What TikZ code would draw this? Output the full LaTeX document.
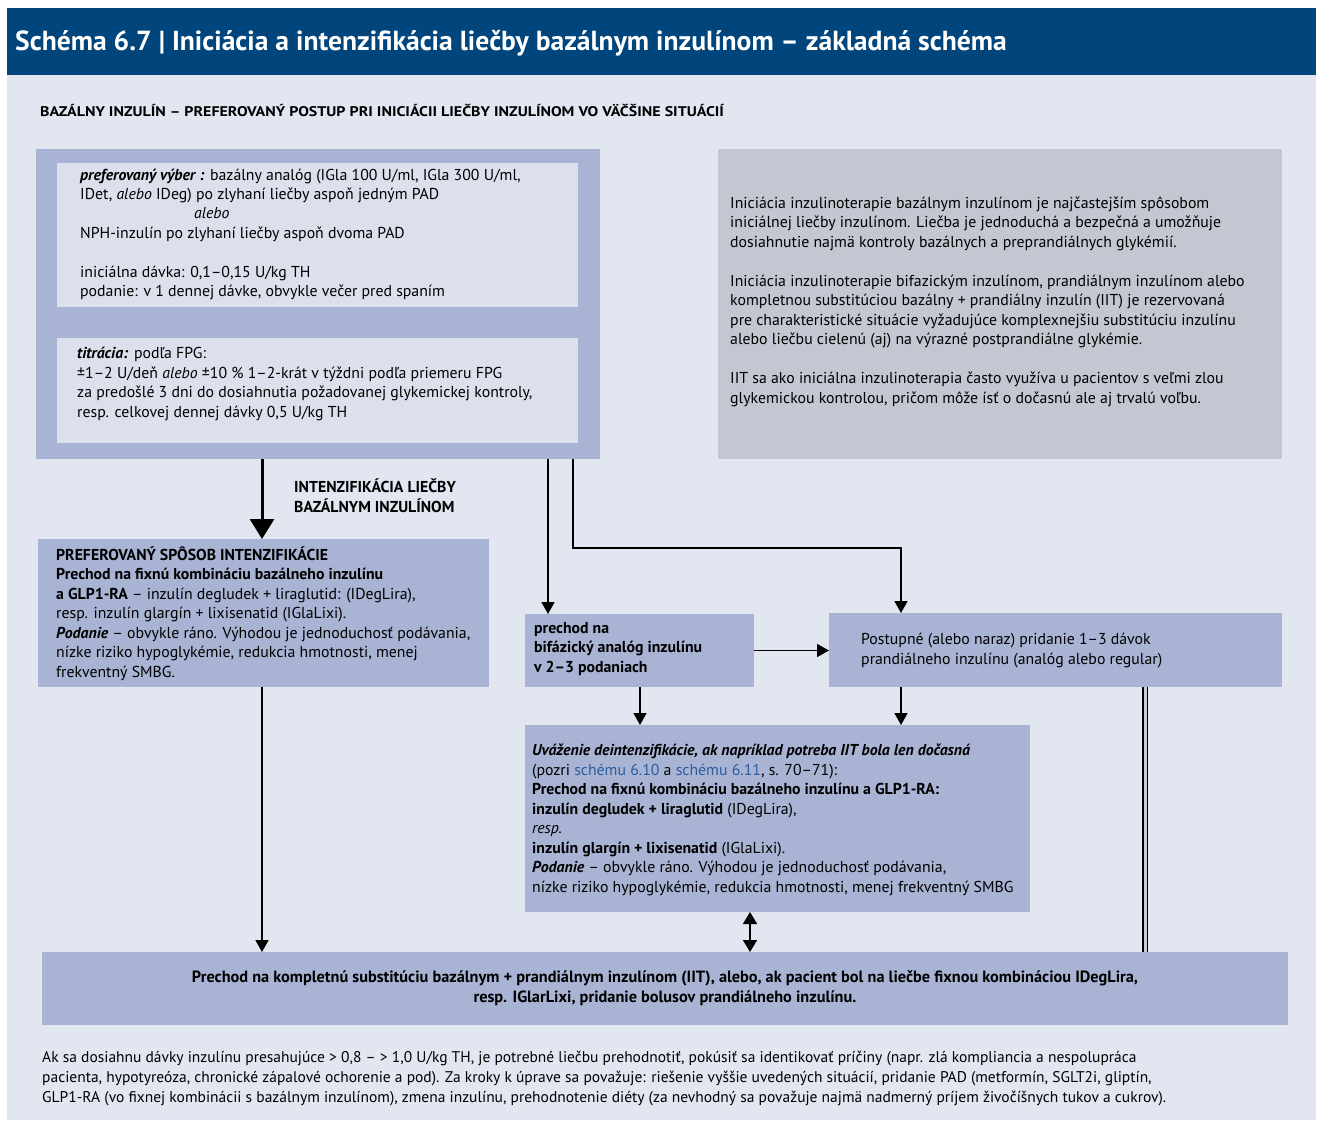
\documentclass[tikz,border=0pt]{standalone}
\usepackage{fontspec}
\setmainfont{PT Sans}
\usetikzlibrary{arrows.meta}
\definecolor{titleblue}{HTML}{00457C}
\definecolor{panel}{HTML}{E1E6F1}
\definecolor{medbox}{HTML}{A9B4D4}
\definecolor{lightbox}{HTML}{DCE0EC}
\definecolor{graybox}{HTML}{C3C7D1}
\definecolor{linkblue}{HTML}{2B5C9E}
\definecolor{gapgray}{HTML}{C8CCD6}
\newcommand\fs{\fontsize{15.8}{19.5}\selectfont}
\newcommand\fsfoot{\fontsize{15.5}{20}\selectfont}
\begin{document}
\begin{tikzpicture}[x=1pt,y=-1pt,
  box/.style={anchor=north west, inner sep=0pt, outer sep=0pt, draw=none},
  txt/.style={anchor=base west, inner sep=0pt, align=left, font=\fs},
  arr/.style={-{Triangle[length=12pt,width=13pt]}, line width=1.6pt},
  bigarr/.style={-{Triangle[length=20pt,width=24pt]}, line width=3pt},
  dblarr/.style={{Triangle[length=12pt,width=14pt]}-{Triangle[length=12pt,width=14pt]}, line width=1.6pt},
  dblline/.style={line width=1.8pt, double=gapgray, double distance=3pt}]
\useasboundingbox (0,0) rectangle (1323,1126);
\fill[white] (0,0) rectangle (1323,1126);
% title bar and panel
\node[box, fill=panel, minimum width=1309pt, minimum height=1045pt] (P) at (7,75) {};
\node[box, fill=titleblue, minimum width=1309pt, minimum height=67pt] (T) at (7,8) {};
\node[anchor=west, inner sep=0pt, text=white, font=\fontsize{27.6}{30}\selectfont\bfseries] (title) at (15,43)
  {Schéma 6.7 | Iniciácia a intenzifikácia liečby bazálnym inzulínom – základná schéma};
\node[anchor=base west, inner sep=0pt, font=\fontsize{14}{16}\selectfont\bfseries] (sub) at (40,117)
  {\scalebox{1.14}[1]{BAZÁLNY INZULÍN – PREFEROVANÝ POSTUP PRI INICIÁCII LIEČBY INZULÍNOM VO VÄČŠINE SITUÁCIÍ}};
% boxes
\node[box, fill=medbox, minimum width=564pt, minimum height=310pt] (A) at (36,149) {};
\node[box, fill=lightbox, minimum width=521pt, minimum height=144pt] (A1) at (57,163) {};
\node[box, fill=lightbox, minimum width=521pt, minimum height=105pt] (A2) at (57,338) {};
\node[box, fill=graybox, minimum width=564pt, minimum height=310pt] (G) at (718,149) {};
\node[box, fill=medbox, minimum width=451pt, minimum height=148pt] (B) at (38,539) {};
\node[box, fill=medbox, minimum width=229pt, minimum height=73pt] (C) at (525,614) {};
\node[box, fill=medbox, minimum width=453pt, minimum height=74pt] (D) at (829,613) {};
\node[box, fill=medbox, minimum width=505pt, minimum height=187pt] (E) at (525,725) {};
\node[box, fill=medbox, minimum width=1246pt, minimum height=73pt] (F) at (42,952) {};
% texts (anchor = baseline of the last line)
\node[txt] (tA1) at (80,297) {\textbf{\textit{preferovaný výber :}} bazálny analóg (IGla 100 U/ml, IGla 300 U/ml,\\
IDet, \textit{alebo} IDeg) po zlyhaní liečby aspoň jedným PAD\\
\hspace*{114pt}\textit{alebo}\\
NPH-inzulín po zlyhaní liečby aspoň dvoma PAD\\[19.5pt]
iniciálna dávka: 0,1–0,15 U/kg TH\\
podanie: v 1 dennej dávke, obvykle večer pred spaním};
\node[txt] (tA2) at (77,417) {\textbf{\textit{titrácia:}} podľa FPG:\\
±1–2 U/deň \textit{alebo} ±10 \% 1–2-krát v týždni podľa priemeru FPG\\
za predošlé 3 dni do dosiahnutia požadovanej glykemickej kontroly,\\
resp. celkovej dennej dávky 0,5 U/kg TH};
\node[txt] (tG) at (730,403) {Iniciácia inzulinoterapie bazálnym inzulínom je najčastejším spôsobom\\
iniciálnej liečby inzulínom. Liečba je jednoduchá a bezpečná a umožňuje\\
dosiahnutie najmä kontroly bazálnych a preprandiálnych glykémií.\\[19.5pt]
Iniciácia inzulinoterapie bifazickým inzulínom, prandiálnym inzulínom alebo\\
kompletnou substitúciou bazálny + prandiálny inzulín (IIT) je rezervovaná\\
pre charakteristické situácie vyžadujúce komplexnejšiu substitúciu inzulínu\\
alebo liečbu cielenú (aj) na výrazné postprandiálne glykémie.\\[19.5pt]
IIT sa ako iniciálna inzulinoterapia často využíva u pacientov s veľmi zlou\\
glykemickou kontrolou, pričom môže ísť o dočasnú ale aj trvalú voľbu.};
\node[txt, font=\fs\bfseries] (lab) at (294,512) {INTENZIFIKÁCIA LIEČBY\\BAZÁLNYM INZULÍNOM};
\node[txt] (tB) at (56,677) {\textbf{PREFEROVANÝ SPÔSOB INTENZIFIKÁCIE}\\
\textbf{Prechod na fixnú kombináciu bazálneho inzulínu}\\
\textbf{a GLP1-RA} – inzulín degludek + liraglutid: (IDegLira),\\
resp. inzulín glargín + lixisenatid (IGlaLixi).\\
\textbf{\textit{Podanie}} – obvykle ráno. Výhodou je jednoduchosť podávania,\\
nízke riziko hypoglykémie, redukcia hmotnosti, menej\\
frekventný SMBG.};
\node[txt, font=\fs\bfseries] (tC) at (534,672) {prechod na\\bifázický analóg inzulínu\\v 2–3 podaniach};
\node[txt] (tD) at (861,664) {Postupné (alebo naraz) pridanie 1–3 dávok\\prandiálneho inzulínu (analóg alebo regular)};
\node[txt] (tE) at (532,892) {\textbf{\textit{Uváženie deintenzifikácie, ak napríklad potreba IIT bola len dočasná}}\\
(pozri \textcolor{linkblue}{schému 6.10} a \textcolor{linkblue}{schému 6.11}, s. 70–71):\\
\textbf{Prechod na fixnú kombináciu bazálneho inzulínu a GLP1-RA:}\\
\textbf{inzulín degludek + liraglutid} (IDegLira),\\
\textit{resp.}\\
\textbf{inzulín glargín + lixisenatid} (IGlaLixi).\\
\textbf{\textit{Podanie}} – obvykle ráno. Výhodou je jednoduchosť podávania,\\
nízke riziko hypoglykémie, redukcia hmotnosti, menej frekventný SMBG};
\node[inner sep=0pt, align=center, font=\fontsize{16.3}{19.5}\selectfont\bfseries] (tF) at (665,988) {Prechod na kompletnú substitúciu bazálnym + prandiálnym inzulínom (IIT), alebo, ak pacient bol na liečbe fixnou kombináciou IDegLira,\\
resp. IGlarLixi, pridanie bolusov prandiálneho inzulínu.};
\node[anchor=base west, inner sep=0pt, align=left, font=\fsfoot] (foot) at (42,1102) {Ak sa dosiahnu dávky inzulínu presahujúce > 0,8 – > 1,0 U/kg TH, je potrebné liečbu prehodnotiť, pokúsiť sa identikovať príčiny (napr. zlá kompliancia a nespolupráca\\
pacienta, hypotyreóza, chronické zápalové ochorenie a pod). Za kroky k úprave sa považuje: riešenie vyššie uvedených situácií, pridanie PAD (metformín, SGLT2i, gliptín,\\
GLP1-RA (vo fixnej kombinácii s bazálnym inzulínom), zmena inzulínu, prehodnotenie diéty (za nevhodný sa považuje najmä nadmerný príjem živočíšnych tukov a cukrov).};
% connectors
\draw[bigarr] ([xshift=226pt]A.south west) -- ([xshift=224pt]B.north west);
\draw[arr] ([xshift=512pt]A.south west) -- ([xshift=23pt]C.north west);
\draw[arr] ([xshift=537pt]A.south west) -- ++(0,89) -| ([xshift=72pt]D.north west);
\draw[arr] (C.east) -- (C.east -| D.west);
\draw[arr] ([xshift=115pt]C.south west) -- ([xshift=115pt]E.north west);
\draw[arr] ([xshift=72pt]D.south west) -- ([xshift=376pt]E.north west);
\draw[dblarr] ([xshift=225pt]E.south west) -- ([xshift=708pt]F.north west);
\draw[arr] ([xshift=224pt]B.south west) -- ([xshift=220pt]F.north west);
\draw[dblline] ([xshift=316pt]D.south west) -- ([xshift=1103pt]F.north west);
\end{tikzpicture}
\end{document}
